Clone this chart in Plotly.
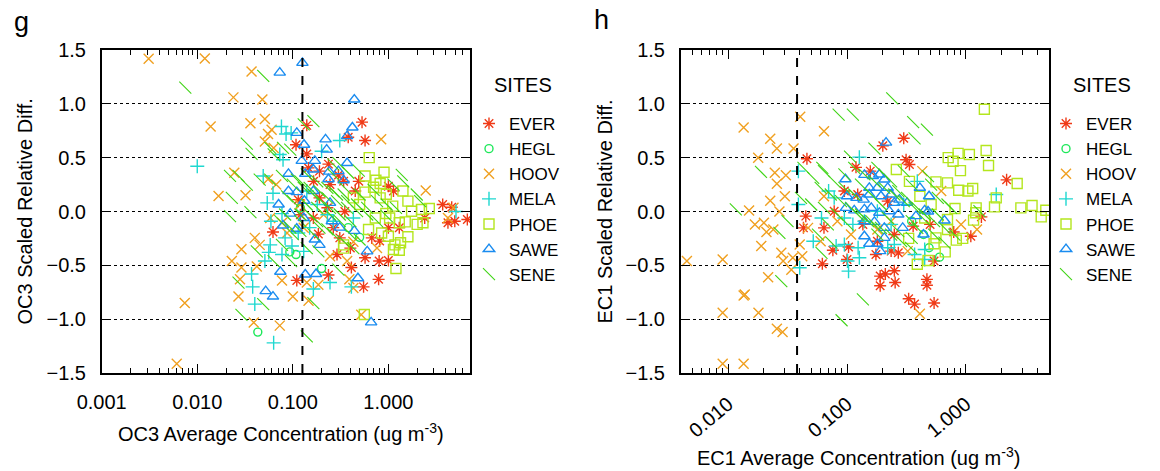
import plotly.graph_objects as go

# ---------------- DATA ----------------
sites = ["EVER", "HEGL", "HOOV", "MELA", "PHOE", "SAWE", "SENE"]
site_colors = ["#f03a17", "#1ee85a", "#f0a020", "#1ed8d0", "#b4e61e", "#1a8cf0", "#3ed414"]
site_symbols = ["asterisk-open", "circle-open", "x-thin-open", "cross-thin-open",
                "square-open", "triangle-up-open", "line-nw-open"]
site_sizes = [10, 8, 10, 10, 10, 10, 12]

y_ticks = [-1.5, -1.0, -0.5, 0.0, 0.5, 1.0, 1.5]
oc3_xticks = [0.001, 0.01, 0.1, 1.0]
oc3_xticklabels = ["0.001", "0.010", "0.100", "1.000"]
ec1_xticks = [0.01, 0.1, 1.0]
ec1_xticklabels = ["0.010", "0.100", "1.000"]

oc3_limit = 0.126
ec1_limit = 0.038

# ---- panel g : OC3 ----
oc3_ever_x = [0.53,0.57,0.38,0.14,0.14,0.108,0.146,0.19,0.236,0.30,0.49,1.0,1.13,3.7,4.6,4.95,4.2,6.7,2.4,1.3,1.0,0.062,0.114,0.19,0.164,0.265,0.31,0.40,0.57,0.80,1.0,0.67,0.81,0.41,0.79,0.55,0.236,0.11,0.29,0.35,0.23,0.185,0.12,0.45,0.34,0.245,0.165]
oc3_ever_y = [0.83,0.66,0.69,0.80,0.535,0.62,0.405,0.375,0.44,0.34,0.28,0.235,0.19,0.065,0.04,-0.09,-0.105,-0.074,-0.06,-0.15,-0.15,-0.19,0.11,0.127,-0.06,-0.15,-0.245,-0.34,-0.43,-0.46,-0.455,-0.245,-0.275,-0.52,-0.63,-0.70,-0.59,-0.64,-0.40,0.0,0.035,-0.21,-0.03,0.19,0.28,0.25,0.28]
oc3_hegl_x = [0.043,0.093,0.108,0.20,0.50,0.38,0.12]
oc3_hegl_y = [-1.12,-0.375,-0.40,-0.53,-0.24,-0.15,0.034]
oc3_hoov_x = [0.0031,0.012,0.037,0.0239,0.048,0.0138,0.036,0.051,0.060,0.055,0.051,0.063,0.84,0.0244,0.0167,0.032,0.055,0.067,2.46,0.040,0.045,0.029,0.023,0.029,0.028,0.027,0.0074,0.0061,0.039,0.073,0.077,0.042,0.10,0.146,0.14,0.185,0.39,0.43,0.76,0.52,0.245,0.37,0.077,0.087,0.058,4.8,4.2,0.119,0.21,0.43,0.13]
oc3_hoov_y = [1.418,1.42,1.30,1.06,1.04,0.79,0.82,0.86,0.76,0.72,0.65,0.59,0.67,0.36,0.145,0.15,0.30,0.25,0.195,-0.245,-0.31,-0.35,-0.46,-0.52,-0.63,-0.79,-0.85,-1.415,-1.03,-1.06,-0.64,-0.51,-0.79,-0.83,-0.66,-0.68,-0.63,-0.71,-0.34,-0.96,-0.415,-0.46,-0.105,-0.20,-0.06,0.034,-0.06,0.065,-0.03,-0.28,-0.15]
oc3_mela_x = [0.010,0.076,0.085,0.096,0.31,0.20,0.073,0.079,0.049,0.062,0.054,0.059,0.077,0.058,0.056,0.077,0.051,0.037,0.038,0.040,0.063,0.098,0.114,0.164,0.245,0.41,0.13,0.083,5.1,0.18,0.265,0.14,0.23,0.15,0.43]
oc3_mela_y = [0.42,0.79,0.72,0.73,0.66,0.56,0.53,0.48,0.33,0.17,0.08,-0.09,-0.02,-0.31,-0.38,-0.40,-0.46,-0.58,-0.70,-0.86,-1.22,-0.32,-0.20,-0.72,-0.66,-0.70,-0.37,-0.245,0.0,0.065,-0.09,0.19,-0.03,-0.15,-0.06]
oc3_phoe_x = [0.63,0.90,0.57,0.74,0.82,0.70,1.42,0.57,0.95,0.82,1.6,1.11,2.22,2.68,1.75,0.94,0.73,1.03,1.3,1.5,2.0,2.3,0.62,0.85,1.0,1.6,1.17,1.34,1.13,1.3,1.2,0.56,0.43,0.50,0.34,0.34]
oc3_phoe_y = [0.50,0.365,0.33,0.29,0.26,0.225,0.19,0.18,0.16,0.127,0.096,0.05,0.019,0.028,0.003,-0.019,-0.06,-0.06,-0.105,-0.096,-0.12,-0.105,-0.167,-0.20,-0.23,-0.235,-0.31,-0.29,-0.353,-0.36,-0.53,-0.957,0.127,0.065,-0.31,-0.34]
oc3_sawe_x = [0.126,0.073,0.44,0.42,0.37,0.11,0.22,0.226,0.131,0.37,0.17,0.124,0.09,0.164,0.24,0.30,0.135,0.236,0.34,0.09,0.11,0.164,0.071,0.132,0.245,0.094,0.13,0.079,0.11,0.31,0.44,0.256,0.60,0.135,0.175,0.48,0.052,0.062,0.074,0.66,0.17,0.19]
oc3_sawe_y = [1.38,1.29,1.04,0.78,0.70,0.73,0.67,0.575,0.62,0.45,0.47,0.47,0.35,0.39,0.37,0.375,0.35,0.30,0.29,0.19,0.18,0.19,0.065,0.10,0.08,-0.02,-0.06,-0.13,-0.16,-0.15,-0.18,-0.09,-0.37,-0.585,-0.58,-0.62,-0.74,-0.79,-0.56,-1.03,-0.26,-0.31]
oc3_sene_x = [0.0075,0.049,0.164,0.13,0.033,0.037,0.058,0.063,0.079,0.094,0.022,0.027,0.033,0.023,0.036,0.022,0.045,0.058,0.077,0.10,0.12,0.15,0.19,0.265,0.30,0.38,0.49,1.38,1.98,2.15,1.13,0.70,0.50,0.087,0.10,0.14,0.18,0.23,0.29,0.37,0.47,0.60,0.76,0.96,0.074,0.094,0.12,0.164,0.23,0.31,0.40,0.50,0.14,0.185,0.042,0.027,0.029,0.049,0.077,0.096,0.164,0.14,0.30,0.063,0.245,0.12,0.18,0.265,0.34,
              0.11,0.13,0.164,0.20,0.245,0.31,0.40,0.14,0.18,0.23,0.29,0.37,0.47,0.60,0.76,0.96,1.2,1.43,0.12,0.15,0.19,0.265,0.34,0.43,0.10,0.083,0.265,0.35]
oc3_sene_y = [1.15,1.26,0.84,0.81,0.63,0.535,0.59,0.53,0.59,0.575,0.33,0.33,0.25,0.127,-0.006,-0.043,0.297,0.297,0.33,0.25,0.28,0.22,0.19,0.437,0.45,0.36,0.38,0.34,0.158,0.096,0.25,0.20,0.158,0.14,0.096,0.065,0.034,0.127,0.096,0.034,0.003,-0.028,-0.09,-0.043,-0.09,-0.15,-0.18,-0.21,-0.167,-0.09,-0.21,-0.26,-0.34,-0.37,-0.37,-0.66,-0.96,-0.86,-0.31,-0.46,-0.85,-1.16,-0.54,-0.46,-0.028,-0.028,-0.09,0.19,0.158,
              0.297,0.22,0.158,0.096,0.034,-0.028,-0.09,0.344,0.28,0.22,0.158,0.096,0.065,0.034,0.096,0.065,0.034,0.28,-0.09,-0.028,-0.15,-0.21,-0.275,-0.34,-0.21,-0.028,0.344,0.22]

# ---- panel h : EC1 ----
ec1_ever_x = [0.30,0.20,0.046,0.314,0.335,0.119,0.157,0.095,0.123,2.2,1.35,1.1,0.79,0.50,0.36,0.25,0.18,0.235,0.175,0.27,0.54,0.19,0.21,0.25,0.19,0.254,0.47,0.47,0.33,0.37,0.54,0.062,0.10,0.103,0.076,0.043,0.045,0.064,0.136,0.078,0.22]
ec1_ever_y = [0.68,0.61,0.49,0.48,0.437,0.41,0.375,0.19,0.158,0.294,-0.05,-0.23,-0.19,-0.12,-0.136,-0.214,-0.276,-0.368,-0.40,-0.384,-0.46,-0.60,-0.58,-0.55,-0.69,-0.66,-0.63,-0.685,-0.81,-0.86,-0.85,-0.486,-0.446,-0.33,-0.36,-0.152,-0.043,-0.152,-0.12,0.003,0.096]
ec1_hegl_x = [0.60,0.49,0.44,0.35]
ec1_hegl_y = [-0.424,-0.337,-0.214,-0.09]
ec1_hoov_x = [0.0135,0.0404,0.064,0.0226,0.0257,0.0355,0.0179,0.0247,0.0306,0.0257,0.030,0.0226,0.027,0.015,0.0168,0.020,0.021,0.024,0.019,0.028,0.035,0.029,0.034,0.0217,0.0045,0.009,0.0135,0.009,0.018,0.0257,0.0287,0.009,0.0135,0.042,0.040,0.064,0.047,0.060,0.43,0.62,0.91,1.24,0.41,0.108,0.083,0.18,0.235,0.324,0.0138]
ec1_hoov_y = [0.78,0.88,0.746,0.675,0.585,0.585,0.50,0.36,0.337,0.257,0.142,0.10,0.0,0.01,-0.12,-0.105,-0.19,-0.167,-0.32,-0.384,-0.43,-0.46,-0.54,-0.61,-0.46,-0.445,-0.78,-0.94,-0.94,-1.09,-1.12,-1.415,-1.415,-0.415,-0.306,0.142,-0.152,-0.276,0.375,0.19,-0.12,-0.167,-0.95,-0.214,-0.09,-0.167,-0.09,-0.368,-0.77]
ec1_mela_x = [0.039,0.127,0.039,0.040,0.052,0.061,0.070,0.081,0.095,0.101,0.103,0.127,0.124,0.22,0.25,0.37,0.45,0.45,0.095,0.112,0.14,0.18,0.235,0.30,0.39,1.8,0.078]
ec1_mela_y = [0.375,0.505,0.065,-0.523,-0.276,-0.06,0.19,-0.32,-0.306,-0.46,-0.554,-0.43,-0.337,-0.337,-0.306,-0.40,-0.353,-0.446,-0.06,-0.12,-0.09,0.003,-0.12,0.065,0.28,0.158,0.127]
ec1_phoe_x = [1.43,1.48,1.07,0.86,0.71,0.78,1.55,0.90,2.7,0.70,0.56,0.87,1.04,1.14,1.8,3.6,2.9,1.74,1.22,4.7,4.3,1.21,1.16,0.81,0.70,0.70,0.94,0.83,0.56,0.54,0.67,0.48,0.39,0.33,0.26,0.335,0.41,0.51,0.45]
ec1_phoe_y = [0.95,0.567,0.53,0.54,0.50,0.467,0.427,0.38,0.26,0.266,0.275,0.198,0.19,0.214,0.127,0.056,0.034,0.043,0.034,0.012,-0.05,-0.012,-0.08,0.028,-0.074,-0.167,-0.25,-0.266,-0.245,-0.30,-0.375,-0.455,-0.49,-0.25,0.39,0.28,0.142,0.065,-0.06]
ec1_sawe_x = [0.213,0.097,0.14,0.165,0.187,0.206,0.154,0.18,0.22,0.41,0.10,0.12,0.138,0.154,0.193,0.235,0.276,0.32,0.49,0.098,0.115,0.14,0.16,0.187,0.227,0.27,0.38,0.45,0.48,0.66,0.14,0.17,0.206,0.14,0.154,0.18,0.206,0.19,0.44,0.294,0.25]
ec1_sawe_y = [0.64,0.30,0.34,0.33,0.344,0.297,0.22,0.22,0.22,0.22,0.142,0.127,0.11,0.158,0.142,0.158,0.11,0.08,0.142,0.034,0.01,0.02,0.034,-0.012,0.003,-0.028,-0.043,0.01,0.0,-0.084,-0.09,-0.096,-0.152,-0.23,-0.30,-0.30,-0.245,-0.368,-0.214,-0.152,0.08]
ec1_sene_x = [0.24,0.085,0.112,0.36,0.47,0.37,0.17,0.106,0.052,0.043,0.062,0.0189,0.0116,0.0316,0.027,0.028,0.061,0.074,0.136,0.090,0.66,1.3,0.48,0.51,0.041,0.050,0.064,0.078,0.095,0.115,0.131,0.16,0.193,0.235,0.27,0.32,0.39,0.46,0.58,0.75,0.083,0.101,0.123,0.15,0.18,0.22,0.27,0.35,0.39,0.54,0.057,0.069,0.18,0.206,0.30,0.35,
              0.060,0.073,0.089,0.108,0.131,0.16,0.193,0.235,0.285,0.345,0.14,0.17,0.206,0.25,0.30,0.37,0.45,0.54,0.66,0.80,0.064,0.095,0.115,0.58,0.70,0.35,0.18]
ec1_sene_y = [1.05,0.90,0.90,0.83,0.76,0.68,0.585,0.51,0.313,0.405,0.405,0.368,0.019,-0.09,-0.198,-0.647,-0.384,-0.29,-0.817,-1.01,-0.29,0.003,0.328,0.25,0.127,0.065,0.034,0.28,0.22,0.158,0.25,0.158,0.065,0.28,0.19,0.127,0.034,-0.09,-0.028,0.034,-0.028,-0.12,-0.028,-0.09,-0.152,-0.06,-0.183,-0.245,-0.152,-0.214,-0.214,-0.12,0.405,0.344,0.375,0.25,
              0.22,0.158,0.096,0.034,-0.028,-0.09,-0.152,-0.214,-0.276,-0.337,0.344,0.28,0.22,0.158,0.096,0.034,-0.028,-0.09,-0.152,-0.214,0.375,0.344,0.405,0.127,0.065,-0.09,-0.214]

oc3_series = [(oc3_ever_x, oc3_ever_y), (oc3_hegl_x, oc3_hegl_y), (oc3_hoov_x, oc3_hoov_y),
              (oc3_mela_x, oc3_mela_y), (oc3_phoe_x, oc3_phoe_y), (oc3_sawe_x, oc3_sawe_y),
              (oc3_sene_x, oc3_sene_y)]
ec1_series = [(ec1_ever_x, ec1_ever_y), (ec1_hegl_x, ec1_hegl_y), (ec1_hoov_x, ec1_hoov_y),
              (ec1_mela_x, ec1_mela_y), (ec1_phoe_x, ec1_phoe_y), (ec1_sawe_x, ec1_sawe_y),
              (ec1_sene_x, ec1_sene_y)]

FONT = "Liberation Sans, Arial, Helvetica, sans-serif"
W, H = 1160, 471

fig = go.Figure()

for series, xa, ya, leg in [(oc3_series, "x", "y", "legend"),
                            (ec1_series, "x2", "y2", "legend2")]:
    for i, (xs, ys) in enumerate(series):
        lw = 1.1 if sites[i] == "SENE" else 1.4
        fig.add_trace(go.Scatter(
            x=xs, y=ys, mode="markers", name=sites[i],
            xaxis=xa, yaxis=ya, legend=leg,
            marker=dict(symbol=site_symbols[i], size=site_sizes[i], color=site_colors[i],
                        line=dict(width=lw, color=site_colors[i])),
        ))

# detection-limit dashed lines
for lim, xa, ya in [(oc3_limit, "x", "y"), (ec1_limit, "x2", "y2")]:
    fig.add_trace(go.Scatter(x=[lim, lim], y=[y_ticks[0], y_ticks[-1]], mode="lines",
                             line=dict(color="black", width=2, dash="dash"), showlegend=False,
                             xaxis=xa, yaxis=ya, hoverinfo="skip"))


def minor_vals(lo, hi):
    vals = []
    for d in range(lo, hi + 1):
        for k in range(2, 10):
            vals.append(k * 10.0 ** d)
    return vals


y_dom = [1 - 373 / H, 1 - 50 / H]

xaxis_common = dict(type="log", showline=True, linecolor="black", linewidth=1.5, mirror="allticks",
                    ticks="inside", ticklen=9, tickwidth=1.2, tickcolor="black", showgrid=False,
                    zeroline=False, tickfont=dict(size=20, color="black", family=FONT),
                    ticklabelstandoff=10,
                    minor=dict(tickvals=minor_vals(-3, 0), ticks="inside", ticklen=5,
                               tickwidth=1, tickcolor="black"))
yaxis_common = dict(range=[-1.5, 1.5], tickvals=y_ticks, tickformat=".1f",
                    showline=True, linecolor="black", linewidth=1.5, mirror="allticks",
                    ticks="inside", ticklen=9, tickwidth=1.2, tickcolor="black",
                    showgrid=True, gridcolor="black", griddash="dot", gridwidth=1,
                    zeroline=False, tickfont=dict(size=20, color="black", family=FONT),
                    ticklabelstandoff=10)

legend_common = dict(xanchor="left", yanchor="top", font=dict(size=17, family=FONT),
                     bgcolor="rgba(0,0,0,0)", itemwidth=30)

fig.update_layout(
    width=W, height=H, autosize=False,
    margin=dict(l=0, r=0, t=0, b=0, autoexpand=False),
    paper_bgcolor="white", plot_bgcolor="white",
    font=dict(family=FONT, color="black"),
    xaxis=dict(domain=[101.7 / W, 470 / W], range=[-3, 0.854], anchor="y",
               tickvals=oc3_xticks, ticktext=oc3_xticklabels, **xaxis_common),
    yaxis=dict(domain=y_dom, anchor="x", **yaxis_common),
    xaxis2=dict(domain=[680.7 / W, 1049 / W], range=[-2.399, 0.699], anchor="y2",
                tickvals=ec1_xticks, ticktext=ec1_xticklabels, tickangle=-40, **xaxis_common),
    yaxis2=dict(domain=y_dom, anchor="x2", **yaxis_common),
    legend=dict(x=469 / W, y=1 - 106 / H, **legend_common),
    legend2=dict(x=1046 / W, y=1 - 106 / H, **legend_common),
    annotations=[
        dict(text="g", x=12 / W, y=1 - 22 / H, xref="paper", yref="paper", xanchor="left",
             yanchor="middle", showarrow=False, font=dict(size=27, family=FONT)),
        dict(text="h", x=592 / W, y=1 - 20 / H, xref="paper", yref="paper", xanchor="left",
             yanchor="middle", showarrow=False, font=dict(size=27, family=FONT)),
        dict(text="SITES", x=492 / W, y=1 - 85 / H, xref="paper", yref="paper", xanchor="left",
             yanchor="middle", showarrow=False, font=dict(size=20, family=FONT)),
        dict(text="SITES", x=1071 / W, y=1 - 85 / H, xref="paper", yref="paper", xanchor="left",
             yanchor="middle", showarrow=False, font=dict(size=20, family=FONT)),
        dict(text="OC3 Average Concentration (ug m<sup>-3</sup>)", x=281 / W, y=1 - 432 / H,
             xref="paper", yref="paper", xanchor="center", yanchor="middle", showarrow=False,
             font=dict(size=20, family=FONT)),
        dict(text="EC1 Average Concentration (ug m<sup>-3</sup>)", x=858 / W, y=1 - 456 / H,
             xref="paper", yref="paper", xanchor="center", yanchor="middle", showarrow=False,
             font=dict(size=20, family=FONT)),
        dict(text="OC3 Scaled Relative Diff.", x=24 / W, y=1 - 211.5 / H, textangle=-90,
             xref="paper", yref="paper", xanchor="center", yanchor="middle", showarrow=False,
             font=dict(size=20, family=FONT)),
        dict(text="EC1 Scaled Relative Diff.", x=604 / W, y=1 - 211.5 / H, textangle=-90,
             xref="paper", yref="paper", xanchor="center", yanchor="middle", showarrow=False,
             font=dict(size=20, family=FONT)),
    ],
)

fig.write_html("out.html", config={"displayModeBar": False},
               post_script="document.body.style.margin='0';document.body.style.padding='0';")
